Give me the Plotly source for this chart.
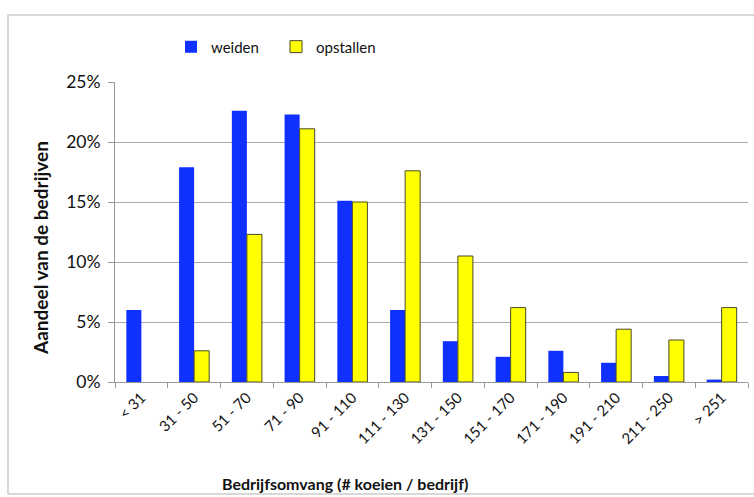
import plotly.graph_objects as go

categories = ["< 31", "31 - 50", "51 - 70", "71 - 90", "91 - 110", "111 - 130",
              "131 - 150", "151 - 170", "171 - 190", "191 - 210", "211 - 250", "> 251"]
weiden = [0.060, 0.179, 0.226, 0.223, 0.151, 0.060, 0.034, 0.021, 0.026, 0.016, 0.005, 0.002]
opstallen = [None, 0.026, 0.123, 0.211, 0.150, 0.176, 0.105, 0.062, 0.008, 0.044, 0.035, 0.062]
y_ticks = [0, 0.05, 0.10, 0.15, 0.20, 0.25]
y_ticklabels = ["0%", "5%", "10%", "15%", "20%", "25%"]

FONT = "Lato, 'Open Sans', sans-serif"

fig = go.Figure()
fig.add_trace(go.Bar(x=categories, y=weiden, name="weiden",
                     marker=dict(color="#1030FF", line=dict(width=0))))
fig.add_trace(go.Bar(x=categories, y=opstallen, name="opstallen",
                     marker=dict(color="#FFFF00", line=dict(color="#4a4a2a", width=1))))

fig.update_layout(
    width=754, height=497,
    margin=dict(l=115, r=6, t=82, b=115, autoexpand=False),
    paper_bgcolor="white", plot_bgcolor="white",
    barmode="group", bargap=0.43, bargroupgap=0,
    font=dict(family=FONT, color="#111111"),
    showlegend=True,
    legend=dict(orientation="h", x=(171 - 115) / 633, y=1.117, xanchor="left", yanchor="middle",
                font=dict(size=15, family=FONT), entrywidth=60, entrywidthmode="pixels",
                itemwidth=30, bgcolor="rgba(0,0,0,0)", traceorder="normal"),
    xaxis=dict(type="category", showline=True, linecolor="#999999", linewidth=1,
               ticks="outside", tickson="boundaries", ticklen=5, tickcolor="#999999",
               tickangle=-45, tickfont=dict(size=15, family=FONT), showgrid=False,
               automargin=False),
    yaxis=dict(range=[0, 0.25], tickvals=y_ticks, ticktext=y_ticklabels,
               showline=True, linecolor="#999999", linewidth=1,
               ticks="outside", ticklen=6, tickcolor="#999999",
               gridcolor="#AAAAAA", gridwidth=1, zeroline=False,
               tickfont=dict(size=17.5, family=FONT), automargin=False,
               ticklabelstandoff=4),
    shapes=[dict(type="rect", xref="paper", yref="paper",
                 x0=-107/633, x1=1.02, y0=-112/300, y1=1 + 67/300,
                 line=dict(color="#CCCCCC", width=1.5), fillcolor="rgba(0,0,0,0)", layer="below")],
    annotations=[
        dict(text="<b>Bedrijfsomvang (# koeien / bedrijf)</b>", xref="paper", yref="paper",
             x=(345 - 115) / 633, y=-101 / 300, xanchor="center", yanchor="middle",
             showarrow=False, font=dict(size=16, family=FONT)),
        dict(text="<b>Aandeel van de bedrijven</b>", xref="paper", yref="paper",
             x=(40 - 115) / 633, y=(382 - 248) / 300, xanchor="center", yanchor="middle",
             textangle=-90, showarrow=False, font=dict(size=19, family=FONT)),
    ],
)

fig.write_html("out.html", config={"displayModeBar": False},
               post_script="document.body.style.margin='0';document.body.style.overflow='hidden';")
